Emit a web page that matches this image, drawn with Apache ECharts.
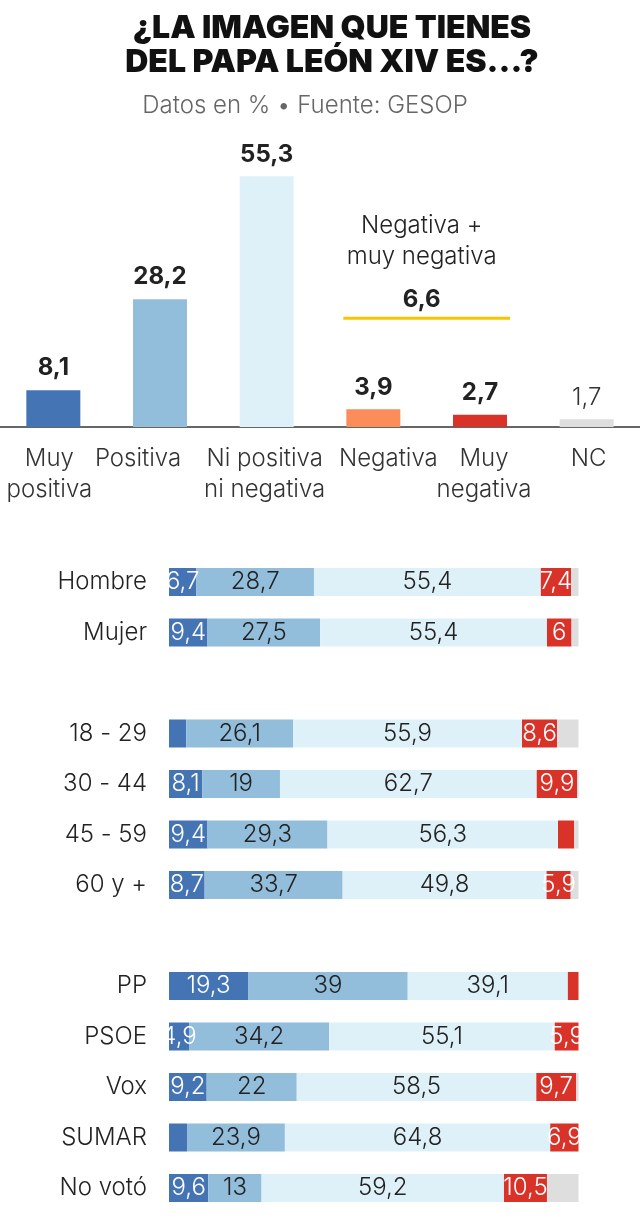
<!DOCTYPE html>
<html>
<head>
<meta charset="utf-8">
<script src="https://cdn.jsdelivr.net/npm/echarts@6/dist/echarts.min.js"></script>
<style>
  html, body { margin: 0; padding: 0; background: #fff; }
  #chart { width: 640px; height: 1226px; }
</style>
</head>
<body>
<div id="chart"></div>
<script>
// ---- data ----
const topCats = ['Muy\npositiva', 'Positiva', 'Ni positiva\nni negativa', 'Negativa', 'Muy\nnegativa', 'NC']
const topValues = [8.1, 28.2, 55.3, 3.9, 2.7, 1.7]

const rowCats = ['Hombre', 'Mujer', ' ', '18 - 29', '30 - 44', '45 - 59', '60 y +', '  ', 'PP', 'PSOE', 'Vox', 'SUMAR', 'No votó']
const muyPositiva = [6.7, 9.4, null, 4.2, 8.1, 9.4, 8.7, null, 19.3, 4.9, 9.2, 4.4, 9.6]
const positiva = [28.7, 27.5, null, 26.1, 19, 29.3, 33.7, null, 39, 34.2, 22, 23.9, 13]
const niPosNiNeg = [55.4, 55.4, null, 55.9, 62.7, 56.3, 49.8, null, 39.1, 55.1, 58.5, 64.8, 59.2]
const muyNegativa = [7.4, 6, null, 8.6, 9.9, 3.9, 5.9, null, 2.6, 5.9, 9.7, 6.9, 10.5]
const nc = [1.8, 1.7, null, 5.2, 0.3, 1.1, 1.9, null, 0, 0, 0.6, 0, 7.7]

const colors = ['#4574b4', '#92bedc', '#dff1f8', '#fb8d5a', '#d93229', '#dedede']
const FONT = 'Inter'

const fmt = v => String(v).replace('.', ',')

const chart = echarts.init(document.getElementById('chart'))

// per-label nudges so the bottom labels don't collide
const labelPad = [[0, 8, 0, 0], [0, 44, 0, 0], [0, 4, 0, 0], [0, 0, 0, 30], [0, 0, 0, 8], [0, 0, 0, 4]]

function stack (name, data, color, labelColor, showLabel = true) {
  return {
    name,
    type: 'bar',
    stack: 'all',
    xAxisIndex: 1,
    yAxisIndex: 1,
    barWidth: 28,
    data,
    itemStyle: { color },
    label: {
      show: showLabel,
      position: 'inside',
      color: labelColor,
      fontFamily: FONT,
      fontSize: 24,
      fontWeight: 300,
      formatter: p => (p.value >= 4.5 ? fmt(p.value) : '')
    },
    emphasis: { disabled: true }
  }
}

const option = {
  animation: false,
  textStyle: { fontFamily: FONT },
  title: [
    {
      text: '¿LA IMAGEN QUE TIENES\nDEL PAPA LEÓN XIV ES...?',
      left: 327,
      top: 6,
      textAlign: 'center',
      textStyle: { fontFamily: FONT, fontSize: 32, fontWeight: 900, color: '#111', lineHeight: 34 }
    },
    {
      text: 'Datos en % • Fuente: GESOP',
      left: 300,
      top: 89,
      textAlign: 'center',
      textStyle: { fontFamily: FONT, fontSize: 24, fontWeight: 300, color: '#666' }
    }
  ],
  grid: [
    { left: 0, right: 0, top: 155, height: 272 },
    { left: 169, right: 61.5, top: 556.75, height: 656.5 }
  ],
  xAxis: [
    {
      type: 'category',
      gridIndex: 0,
      data: topCats.map((c, i) => ({ value: c, textStyle: { padding: labelPad[i] } })),
      axisTick: { show: false },
      axisLine: { lineStyle: { color: '#333', width: 1.5 } },
      axisLabel: { color: '#333', fontSize: 24, fontWeight: 300, lineHeight: 31, margin: 16, fontFamily: FONT, interval: 0 }
    },
    {
      type: 'value',
      gridIndex: 1,
      min: 0,
      max: 100,
      show: false
    }
  ],
  yAxis: [
    { type: 'value', gridIndex: 0, min: 0, max: 60, show: false },
    {
      type: 'category',
      gridIndex: 1,
      inverse: true,
      data: rowCats,
      axisLine: { show: false },
      axisTick: { show: false },
      axisLabel: { color: '#222', fontSize: 24, fontWeight: 300, margin: 22, fontFamily: FONT }
    }
  ],
  series: [
    {
      type: 'bar',
      xAxisIndex: 0,
      yAxisIndex: 0,
      barWidth: 54,
      data: topValues.map((v, i) => ({
        value: v,
        itemStyle: { color: colors[i] },
        label: i === 5 ? { fontWeight: 300, color: '#333' } : {}
      })),
      label: {
        show: true,
        position: 'top',
        distance: 10,
        fontFamily: FONT,
        fontSize: 24,
        fontWeight: 'bold',
        color: '#222',
        formatter: p => fmt(p.value)
      },
      emphasis: { disabled: true }
    },
    stack('Muy positiva', muyPositiva, colors[0], '#fff'),
    stack('Positiva', positiva, colors[1], '#222'),
    stack('Ni positiva ni negativa', niPosNiNeg, colors[2], '#222'),
    stack('Muy negativa', muyNegativa, colors[4], '#fff'),
    stack('NC', nc, colors[5], '#222', false)
  ]
}

chart.setOption(option)

// annotation: negativa + muy negativa
const sumNeg = Math.round((topValues[3] + topValues[4]) * 10) / 10
const pA = chart.convertToPixel({ gridIndex: 0 }, [3, 24])
const pB = chart.convertToPixel({ gridIndex: 0 }, [4, 24])
const midX = (pA[0] + pB[0]) / 2
chart.setOption({
  graphic: [
    {
      type: 'line',
      shape: { x1: pA[0] - 30, y1: pA[1], x2: pB[0] + 30, y2: pB[1] },
      style: { stroke: '#f7c400', lineWidth: 3 }
    },
    {
      type: 'text',
      x: midX - 5,
      y: pA[1] - 18,
      style: {
        text: fmt(sumNeg),
        fontFamily: FONT,
        fontSize: 24,
        fontWeight: 'bold',
        fill: '#222',
        align: 'center',
        verticalAlign: 'middle'
      }
    },
    {
      type: 'text',
      x: midX - 5,
      y: pA[1] - 77,
      style: {
        text: 'Negativa +\nmuy negativa',
        fontFamily: FONT,
        fontSize: 24,
        fontWeight: 300,
        lineHeight: 31,
        fill: '#222',
        align: 'center',
        verticalAlign: 'middle'
      }
    }
  ]
})
</script>
</body>
</html>
